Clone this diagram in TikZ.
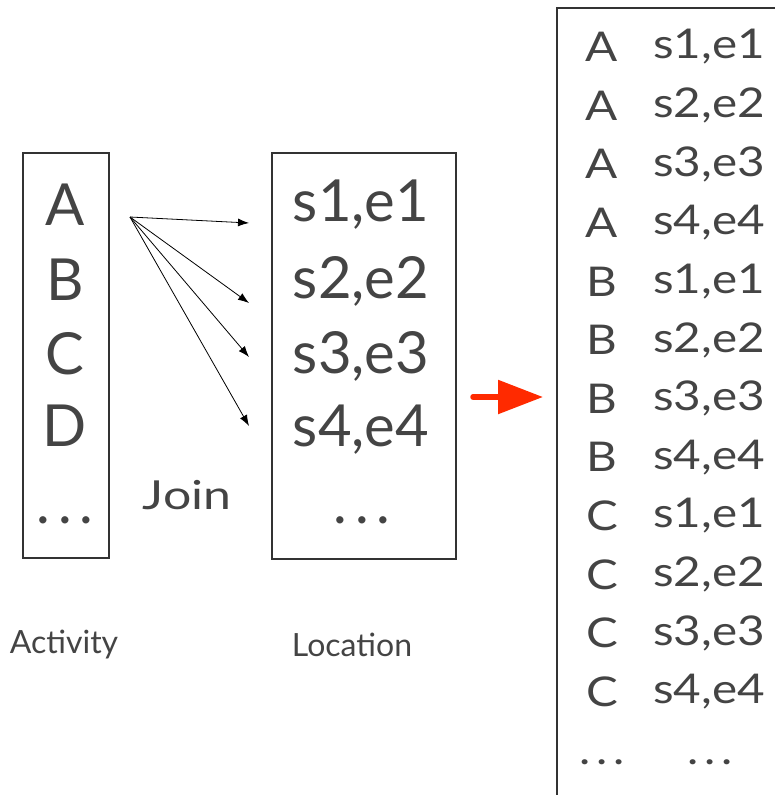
\documentclass[tikz,border=0pt]{standalone}
\usepackage{fontspec}
\setmainfont{Lato}
\newfontfamily\rowfont[FakeStretch=1.16]{Lato}
\newfontfamily\joinfont[FakeStretch=1.25]{Lato}
\usetikzlibrary{arrows.meta}
\definecolor{ink}{HTML}{444444}
\definecolor{frame}{HTML}{333333}
\definecolor{joinred}{HTML}{FF2A00}
% widely spaced ellipsis
\newcommand\spreaddots[1]{.\hspace{#1}.\hspace{#1}.}
\tikzset{
  box/.style={draw=frame, line width=1.3pt},
  big/.style={text=ink, font=\fontsize{58}{58}\selectfont, inner sep=0pt},
  row/.style={text=ink, font=\rowfont\fontsize{41}{41}\selectfont, inner sep=0pt},
  caption/.style={text=ink, font=\fontsize{32}{32}\selectfont, inner sep=0pt},
  link/.style={-{Latex[length=11pt,width=8pt]}, line width=0.8pt, black},
  flow/.style={-{Triangle[length=45pt,width=33pt]}, line width=5.5pt, line cap=round, joinred}
}
\begin{document}
\begin{tikzpicture}[x=1pt,y=-1pt]
\useasboundingbox (0,0) rectangle (775,795);

% Activity table
\draw[box] (23,153) rectangle (109,558);
\node[big] (a1) at (65,205) {A};
\node[big] (a2) at (65,280) {B};
\node[big] (a3) at (65,354) {C};
\node[big] (a4) at (65,426) {D};
\node[big] (a5) at (65,520) {\spreaddots{8pt}};

% Location table
\draw[box] (272,153) rectangle (456,559);
\node[big] (l1) at (361,205) {s1,e1};
\node[big] (l2) at (361,281) {s2,e2};
\node[big] (l3) at (361,356) {s3,e3};
\node[big] (l4) at (361,430) {s4,e4};
\node[big] (l5) at (362,520) {\spreaddots{8pt}};

% join fan-out from A
\coordinate (src) at (130,217);
\coordinate (t1) at (249,223);
\coordinate (t2) at (249,303);
\coordinate (t3) at (249,357);
\coordinate (t4) at (249,426);
\foreach \t in {t1,t2,t3,t4} \draw[link] (src) -- (\t);

\node[text=ink, inner sep=0pt, font=\joinfont\fontsize{40}{40}\selectfont] (join) at (187,495) {Join};
\node[caption] (capact) at (64,645) {Activity};
\node[caption] (caploc) at (352,645) {Location};

% result arrow
\coordinate (rs) at (473,397);
\coordinate (re) at (543,397);
\draw[flow] (rs) -- (re);

% joined result table (runs past the page edge)
\begin{scope}
\clip (0,0) rectangle (775,795);
\draw[box] (557,8) rectangle (820,830);
\end{scope}
\foreach \L [count=\i] in {A,A,A,A,B,B,B,B,C,C,C,C} {
  \pgfmathsetmacro{\yy}{47+(\i-1)*58.6}
  \pgfmathtruncatemacro{\k}{mod(\i-1,4)+1}
  \node[row] (rl\i) at (602,\yy) {\L};
  \node[row, anchor=west] (rr\i) at (653,\yy) {s\k,e\k};
}
\node[row] (rl13) at (602,762) {\spreaddots{6pt}};
\node[row] (rr13) at (710,762) {\spreaddots{6pt}};
\end{tikzpicture}
\end{document}
